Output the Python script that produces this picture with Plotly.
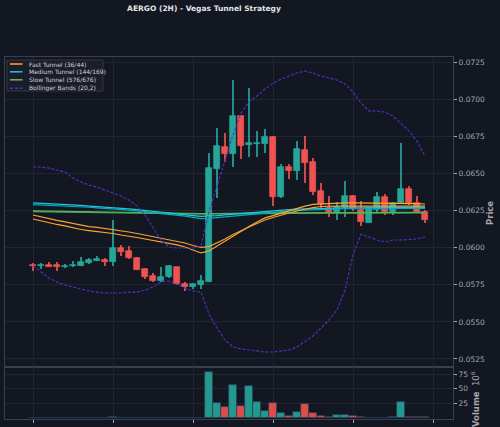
import plotly.graph_objects as go

# ---------------- data ----------------
idx = list(range(50))

opens = [0.05887, 0.05875, 0.05887, 0.05882, 0.05868, 0.05875, 0.05879, 0.05899, 0.05911, 0.05920,
         0.05904, 0.06000, 0.05978, 0.05933, 0.05857, 0.05810, 0.05774, 0.05802, 0.05868, 0.05758,
         0.05733, 0.05747, 0.05771, 0.06529, 0.06681, 0.06630, 0.06888, 0.06695, 0.06697, 0.06699,
         0.06749, 0.06340, 0.06542, 0.06517, 0.06659, 0.06576, 0.06382, 0.06266, 0.06236, 0.06266,
         0.06351, 0.06254, 0.06169, 0.06254, 0.06340, 0.06239, 0.06299, 0.06396, 0.06304, 0.06243]
highs = [0.05899, 0.05899, 0.05902, 0.05904, 0.05890, 0.05913, 0.05938, 0.05931, 0.05944, 0.05929,
         0.06190, 0.06021, 0.06014, 0.05935, 0.05861, 0.05828, 0.05870, 0.05886, 0.05870, 0.05767,
         0.05764, 0.05814, 0.06637, 0.06809, 0.06775, 0.07131, 0.06892, 0.07077, 0.06789, 0.06800,
         0.06752, 0.06564, 0.06564, 0.06720, 0.06753, 0.06603, 0.06434, 0.06350, 0.06310, 0.06450,
         0.06355, 0.06315, 0.06270, 0.06374, 0.06360, 0.06306, 0.06704, 0.06416, 0.06349, 0.06254]
lows = [0.05845, 0.05859, 0.05873, 0.05841, 0.05866, 0.05873, 0.05877, 0.05892, 0.05909, 0.05875,
        0.05877, 0.05946, 0.05922, 0.05850, 0.05791, 0.05769, 0.05772, 0.05798, 0.05749, 0.05711,
        0.05724, 0.05720, 0.05767, 0.06337, 0.06580, 0.06546, 0.06596, 0.06614, 0.06610, 0.06641,
        0.06281, 0.06337, 0.06461, 0.06457, 0.06434, 0.06356, 0.06266, 0.06209, 0.06187, 0.06205,
        0.06245, 0.06149, 0.06165, 0.06243, 0.06221, 0.06219, 0.06297, 0.06288, 0.06236, 0.06165]
closes = [0.05875, 0.05887, 0.05873, 0.05868, 0.05877, 0.05887, 0.05906, 0.05915, 0.05922, 0.05904,
          0.06000, 0.05973, 0.05929, 0.05852, 0.05805, 0.05774, 0.05805, 0.05877, 0.05758, 0.05735,
          0.05754, 0.05774, 0.06535, 0.06688, 0.06632, 0.06890, 0.06686, 0.06703, 0.06703, 0.06749,
          0.06340, 0.06546, 0.06517, 0.06664, 0.06573, 0.06378, 0.06295, 0.06239, 0.06277, 0.06351,
          0.06259, 0.06171, 0.06266, 0.06340, 0.06243, 0.06299, 0.06394, 0.06299, 0.06243, 0.06187]

# volume in millions
volumes = [0.3, 0.3, 0.3, 0.3, 0.3, 0.3, 0.3, 0.3, 0.3, 0.3,
           2.7, 1.0, 0.4, 0.3, 0.3, 0.3, 0.8, 0.3, 0.4, 0.3,
           0.3, 0.4, 78.0, 26.4, 19.7, 55.9, 20.8, 55.3, 28.1, 12.9,
           25.4, 8.5, 4.4, 10.2, 23.7, 8.5, 3.9, 2.2, 5.1, 5.1,
           3.4, 1.7, 0.6, 1.0, 0.6, 1.4, 28.1, 2.7, 1.7, 1.7]

fast_36 = [0.06194, 0.06180, 0.06167, 0.06157, 0.06147, 0.06133, 0.06123, 0.06116, 0.06110, 0.06103,
           0.06096, 0.06086, 0.06079, 0.06069, 0.06059, 0.06049, 0.06042, 0.06030, 0.06019, 0.06005,
           0.05985, 0.05965, 0.05978, 0.06012, 0.06046, 0.06079, 0.06113, 0.06143, 0.06174, 0.06201,
           0.06217, 0.06234, 0.06251, 0.06268, 0.06281, 0.06292, 0.06295, 0.06298, 0.06302, 0.06302,
           0.06302, 0.06302, 0.06302, 0.06302, 0.06302, 0.06302, 0.06302, 0.06302, 0.06298, 0.06295]
fast_44 = [0.06221, 0.06207, 0.06194, 0.06184, 0.06174, 0.06163, 0.06153, 0.06143, 0.06137, 0.06130,
           0.06123, 0.06116, 0.06106, 0.06096, 0.06086, 0.06076, 0.06066, 0.06056, 0.06046, 0.06032,
           0.06015, 0.06002, 0.06008, 0.06032, 0.06059, 0.06089, 0.06116, 0.06140, 0.06163, 0.06187,
           0.06204, 0.06221, 0.06234, 0.06248, 0.06261, 0.06271, 0.06278, 0.06281, 0.06281, 0.06281,
           0.06281, 0.06281, 0.06281, 0.06281, 0.06281, 0.06281, 0.06281, 0.06281, 0.06281, 0.06281]
med_144 = [0.06302, 0.06300, 0.06297, 0.06294, 0.06291, 0.06288, 0.06285, 0.06281, 0.06278, 0.06275,
           0.06271, 0.06267, 0.06262, 0.06257, 0.06252, 0.06246, 0.06241, 0.06236, 0.06230, 0.06224,
           0.06217, 0.06211, 0.06212, 0.06217, 0.06222, 0.06227, 0.06232, 0.06237, 0.06241, 0.06246,
           0.06251, 0.06254, 0.06257, 0.06260, 0.06262, 0.06264, 0.06265, 0.06267, 0.06268, 0.06269,
           0.06269, 0.06269, 0.06270, 0.06270, 0.06271, 0.06271, 0.06272, 0.06272, 0.06272, 0.06272]
med_169 = [0.06291, 0.06289, 0.06287, 0.06285, 0.06282, 0.06279, 0.06276, 0.06273, 0.06269, 0.06266,
           0.06262, 0.06258, 0.06253, 0.06248, 0.06243, 0.06238, 0.06231, 0.06225, 0.06219, 0.06213,
           0.06205, 0.06197, 0.06198, 0.06202, 0.06207, 0.06213, 0.06218, 0.06223, 0.06228, 0.06234,
           0.06240, 0.06244, 0.06248, 0.06251, 0.06254, 0.06256, 0.06258, 0.06260, 0.06262, 0.06263,
           0.06263, 0.06263, 0.06264, 0.06264, 0.06265, 0.06265, 0.06265, 0.06265, 0.06265, 0.06265]
slow_576 = [0.06248, 0.06247, 0.06247, 0.06246, 0.06245, 0.06245, 0.06244, 0.06243, 0.06243, 0.06242,
            0.06241, 0.06240, 0.06240, 0.06239, 0.06238, 0.06237, 0.06236, 0.06235, 0.06234, 0.06233,
            0.06232, 0.06231, 0.06231, 0.06232, 0.06232, 0.06233, 0.06233, 0.06234, 0.06234, 0.06235,
            0.06235, 0.06236, 0.06236, 0.06236, 0.06237, 0.06237, 0.06237, 0.06237, 0.06238, 0.06238,
            0.06238, 0.06238, 0.06238, 0.06239, 0.06239, 0.06239, 0.06239, 0.06239, 0.06239, 0.06239]
slow_676 = [0.06244, 0.06243, 0.06243, 0.06242, 0.06241, 0.06241, 0.06240, 0.06239, 0.06239, 0.06238,
            0.06237, 0.06236, 0.06236, 0.06235, 0.06234, 0.06233, 0.06232, 0.06231, 0.06230, 0.06229,
            0.06228, 0.06227, 0.06227, 0.06228, 0.06228, 0.06229, 0.06229, 0.06230, 0.06230, 0.06231,
            0.06231, 0.06232, 0.06232, 0.06232, 0.06233, 0.06233, 0.06233, 0.06233, 0.06234, 0.06234,
            0.06234, 0.06234, 0.06234, 0.06235, 0.06235, 0.06235, 0.06235, 0.06235, 0.06235, 0.06235]
bb_upper = [0.06544, 0.06544, 0.06537, 0.06524, 0.06510, 0.06470, 0.06443, 0.06423, 0.06409, 0.06389,
            0.06369, 0.06349, 0.06322, 0.06281, 0.06221, 0.06133, 0.06052, 0.06005, 0.05998, 0.05998,
            0.05998, 0.06012, 0.06241, 0.06416, 0.06591, 0.06760, 0.06908, 0.06982, 0.07023, 0.07070,
            0.07110, 0.07137, 0.07158, 0.07178, 0.07191, 0.07178, 0.07158, 0.07144, 0.07131, 0.07104,
            0.07050, 0.06976, 0.06922, 0.06922, 0.06915, 0.06888, 0.06834, 0.06787, 0.06719, 0.06618]
bb_lower = [0.05877, 0.05836, 0.05796, 0.05769, 0.05749, 0.05735, 0.05722, 0.05708, 0.05701, 0.05695,
            0.05695, 0.05695, 0.05701, 0.05701, 0.05715, 0.05735, 0.05769, 0.05776, 0.05755, 0.05728,
            0.05708, 0.05701, 0.05553, 0.05459, 0.05378, 0.05331, 0.05318, 0.05311, 0.05304, 0.05297,
            0.05297, 0.05304, 0.05311, 0.05331, 0.05365, 0.05405, 0.05459, 0.05513, 0.05580, 0.05715,
            0.05951, 0.06092, 0.06072, 0.06052, 0.06039, 0.06052, 0.06052, 0.06055, 0.06059, 0.06072]

price_ticks = [0.0525, 0.0550, 0.0575, 0.0600, 0.0625, 0.0650, 0.0675, 0.0700, 0.0725]
volume_ticks = [25, 50, 75]
x_ticks = [0, 10, 20, 30, 40, 50]

legend_labels = ["Fast Tunnel (36/44)", "Medium Tunnel (144/169)",
                 "Slow Tunnel (576/676)", "Bollinger Bands (20,2)"]

# ---------------- style ----------------
BG = "#131722"
GRID = "#21252f"
AXC = "#3b3f4b"
TXT = "#a4a7ad"
UP = "#26a69a"
DN = "#ef5350"
FONT = "DejaVu Sans"
C_FAST = ["#ffa726", "#f0a040"]
C_MED = ["#26c6da", "#00acc1"]
C_SLOW = ["#66bb6a", "#4caf50"]
C_BB = "#5230c4"

is_up = [c >= o for o, c in zip(opens, closes)]
col = [UP if u else DN for u in is_up]
body_base = [min(o, c) for o, c in zip(opens, closes)]
body_h = [abs(c - o) for o, c in zip(opens, closes)]
wick_h = [h - l for h, l in zip(highs, lows)]

fig = go.Figure()

# wicks
fig.add_trace(go.Bar(x=idx, y=wick_h, base=lows, width=0.13,
                     marker=dict(color=col, opacity=0.85, line=dict(width=0)),
                     xaxis="x", yaxis="y", showlegend=False))
# bodies
fig.add_trace(go.Bar(x=idx, y=body_h, base=body_base, width=0.66,
                     marker=dict(color=col, line=dict(color=col, width=0.7)),
                     xaxis="x", yaxis="y", showlegend=False))

def line(y, color, width=1.2, dash=None):
    fig.add_trace(go.Scatter(x=idx, y=y, mode="lines",
                             line=dict(color=color, width=width, dash=dash),
                             xaxis="x", yaxis="y", showlegend=False))

line(slow_576, C_SLOW[0])
line(slow_676, C_SLOW[1])
line(med_144, C_MED[0])
line(med_169, C_MED[1])
line(fast_36, C_FAST[0])
line(fast_44, C_FAST[1])
line(bb_upper, C_BB, 1.1, "3px,1.6px")
line(bb_lower, C_BB, 1.1, "3px,1.6px")

# volume
fig.add_trace(go.Bar(x=idx, y=volumes, width=1.0,
                     marker=dict(color=col, opacity=0.9,
                                 line=dict(color="#26405a", width=0.8)),
                     xaxis="x2", yaxis="y2", showlegend=False))

VOL_TOP = 52 / 362

fig.update_layout(
    width=500, height=427,
    margin=dict(l=5, r=47, t=57, b=8),
    paper_bgcolor=BG, plot_bgcolor=BG,
    barmode="overlay", bargap=0, showlegend=False,
    title=dict(text="<b>AERGO (2H) - Vegas Tunnel Strategy</b>",
               x=0.408, y=0.981, xanchor="center", yanchor="middle",
               font=dict(family=FONT, size=7.5, color="#e4e4e4")),
    xaxis=dict(domain=[0, 1], range=[-3.5, 52.5], anchor="y",
               tickvals=x_ticks, showticklabels=False, ticks="",
               showgrid=True, gridcolor=GRID, gridwidth=0.8,
               showline=True, mirror=True, linecolor=AXC, linewidth=1, zeroline=False),
    yaxis=dict(domain=[VOL_TOP, 1], range=[0.05196, 0.07286], anchor="x", side="right",
               tickvals=price_ticks, tickformat=".4f", ticks="outside", ticklen=3,
               tickcolor=TXT, tickfont=dict(family=FONT, size=7.5, color=TXT),
               showgrid=True, gridcolor=GRID, gridwidth=0.8,
               showline=True, mirror=True, linecolor=AXC, linewidth=1, zeroline=False),
    xaxis2=dict(domain=[0, 1], range=[-3.5, 52.5], anchor="y2",
                tickvals=x_ticks, showticklabels=False, ticks="outside", ticklen=3,
                tickcolor=TXT, showgrid=True, gridcolor=GRID, gridwidth=0.8,
                showline=True, mirror=True, linecolor=AXC, linewidth=1, zeroline=False),
    yaxis2=dict(domain=[0, VOL_TOP], range=[-1.5, 87], anchor="x2", side="right",
                tickvals=volume_ticks, ticks="outside", ticklen=3,
                tickcolor=TXT, tickfont=dict(family=FONT, size=7.5, color=TXT),
                showgrid=True, gridcolor=GRID, gridwidth=0.8,
                showline=True, mirror=True, linecolor=AXC, linewidth=1, zeroline=False),
)

def px_x(px):
    return (px - 5) / 448

def px_y(py):
    return (419 - py) / 362

# axis titles
fig.add_annotation(text="<b>Price</b>", xref="paper", yref="paper",
                   x=px_x(490), y=px_y(213), textangle=-90, showarrow=False,
                   xanchor="center", yanchor="middle",
                   font=dict(family=FONT, size=8.5, color=TXT))
fig.add_annotation(text="<b>Volume</b>  10<sup>6</sup>", xref="paper", yref="paper",
                   x=px_x(475), y=px_y(399), textangle=-90, showarrow=False,
                   xanchor="center", yanchor="middle",
                   font=dict(family=FONT, size=8.5, color=TXT))

# legend (drawn manually for compact spacing)
shapes = [dict(type="rect", xref="paper", yref="paper",
               x0=px_x(7), x1=px_x(103), y0=px_y(91), y1=px_y(60),
               fillcolor="rgba(28,32,43,0.92)", line=dict(color="#3c404b", width=0.8),
               layer="above")]
leg_y = [64, 71.8, 79.8, 88.2]
leg_col = [C_FAST[0], C_MED[0], C_SLOW[0], C_BB]
leg_dash = ["solid", "solid", "solid", "3px,2px"]
for yy, cc, dd, lab in zip(leg_y, leg_col, leg_dash, legend_labels):
    shapes.append(dict(type="line", xref="paper", yref="paper",
                       x0=px_x(10), x1=px_x(22.5), y0=px_y(yy), y1=px_y(yy),
                       line=dict(color=cc, width=1.5, dash=dd), layer="above"))
    fig.add_annotation(text=lab, xref="paper", yref="paper",
                       x=px_x(26.5), y=px_y(yy), showarrow=False,
                       xanchor="left", yanchor="middle",
                       font=dict(family=FONT, size=6, color="#d2d4d8"))
fig.update_layout(shapes=shapes)

fig.write_html("out.html")
